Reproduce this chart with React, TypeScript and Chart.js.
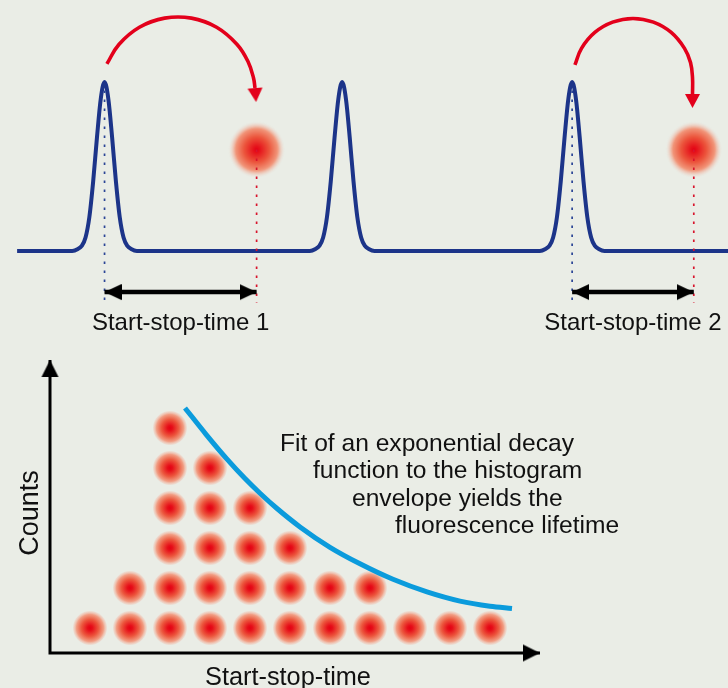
import React, { useEffect, useRef } from "react";
import { Chart, registerables } from "chart.js";

Chart.register(...registerables);

// ---------- Top panel: excitation pulses and detected photons ----------
// time in ns, signal level normalised (baseline 0, pulse peak 1)
const pulseTimes = [0, 12.5, 24.6];
const pulseShapeDt = [-1.7, -1.4, -1.2, -1.0, -0.8, -0.6, -0.4, -0.2, 0, 0.2, 0.4, 0.6, 0.8, 1.0, 1.2, 1.4, 1.7];
const pulseShapeLevel = [0, 0.012, 0.03, 0.08, 0.2, 0.41, 0.67, 0.9, 1, 0.9, 0.67, 0.41, 0.2, 0.08, 0.03, 0.012, 0];
const traceStart = -4.6;
const traceEnd = 32.8;
const photonTimes = [8.0, 31.0];
const photonLevel = 0.6;
const startPulseIndex = [0, 2];
const timeLabels = ["Start-stop-time 1", "Start-stop-time 2"];
const arrowLevel = -0.243;
const guideBottom = -0.308;
const guideTop = 0.95;

// red excitation -> emission arcs
const arc1T = [0.124, 0.755, 1.834, 3.16, 4.57, 5.895, 6.974, 7.547, 7.837, 7.916];
const arc1V = [1.107, 1.222, 1.324, 1.378, 1.378, 1.324, 1.222, 1.121, 1.024, 0.964];
const arc2T = [24.746, 25.093, 25.793, 26.729, 27.802, 28.876, 29.812, 30.512, 30.828, 30.933, 30.933];
const arc2V = [1.101, 1.199, 1.293, 1.354, 1.376, 1.354, 1.293, 1.199, 1.115, 1.024, 0.929];

// ---------- Bottom panel: histogram of start-stop times ----------
const bins = [1, 2, 3, 4, 5, 6, 7, 8, 9, 10, 11];
const counts = [1, 2, 6, 5, 4, 3, 2, 2, 1, 1, 1];
const fitBin = [3.375, 3.9, 4.425, 4.875, 5.25, 5.675, 6.25, 7.0, 7.75, 8.575, 9.425, 10.25, 11.0, 11.55];
const fitCount = [6.5, 5.8425, 5.2225, 4.7375, 4.37, 3.9875, 3.5275, 3.0175, 2.605, 2.2175, 1.9025, 1.6725, 1.545, 1.49];
const axisBase = 0.375;
const yAxisEnd = 7.7;
const xAxisEnd = 12.25;
const annotationLines = [
  "Fit of an exponential decay",
  "function to the histogram",
  "envelope yields the",
  "fluorescence lifetime",
];
const yAxisTitle = "Counts";
const xAxisTitle = "Start-stop-time";

// ---------- styling / layout ----------
const BG = "rgb(234,237,230)";
const FAMILY = '"Liberation Sans", Arial, Helvetica, sans-serif';
const TEXT_COLOR = "#111111";
const NAVY = "#1c3489";
const RED = "#e3001b";
const CYAN = "#0b9bdc";

const layout = {
  top: { xMin: -5.5, xMax: 32.8, yMin: -2.5858, yMax: 1.4852 },
  bottom: { xMin: -1.25, xMax: 16.95, yMin: -0.5, yMax: 16.7 },
  timeLabelLevel: -0.4675,
  annotationX: [5.75, 6.575, 7.55, 8.625],
  annotationY: [5.425, 4.75, 4.05, 3.375],
  yTitle: { x: -0.3, y: 3.875 },
  xTitle: { x: 5.95, y: -0.425 },
  fonts: { timeLabel: 24, annotation: 24.6, yTitle: 27, xTitle: 25.3 },
  arcHeadRotation: [85.5, 90],
};

function makeArrow(len: number, half: number, color: string, tipAtCenter: boolean) {
  const c = document.createElement("canvas");
  c.width = Math.ceil(len * 2);
  c.height = Math.ceil(half * 2) + 2;
  const ctx = c.getContext("2d")!;
  const cx = c.width / 2;
  const cy = c.height / 2;
  ctx.fillStyle = color;
  ctx.beginPath();
  if (tipAtCenter) {
    ctx.moveTo(cx, cy);
    ctx.lineTo(cx - len, cy - half);
    ctx.lineTo(cx - len, cy + half);
  } else {
    ctx.moveTo(cx + len, cy);
    ctx.lineTo(cx, cy - half);
    ctx.lineTo(cx, cy + half);
  }
  ctx.closePath();
  ctx.fill();
  return c;
}

function makeGlow(r: number, stops: [number, string][]) {
  const c = document.createElement("canvas");
  const s = Math.ceil(r * 2) + 2;
  c.width = s;
  c.height = s;
  const ctx = c.getContext("2d")!;
  const g = ctx.createRadialGradient(s / 2, s / 2, 0, s / 2, s / 2, r);
  stops.forEach(([o, col]) => g.addColorStop(o, col));
  ctx.fillStyle = g;
  ctx.beginPath();
  ctx.arc(s / 2, s / 2, r, 0, Math.PI * 2);
  ctx.fill();
  return c;
}

export default function App() {
  const ref = useRef<HTMLCanvasElement>(null);

  useEffect(() => {
    document.body.style.margin = "0";
    document.body.style.background = BG;
    const canvas = ref.current!;

    const dotImg = makeGlow(17, [
      [0, "rgb(228,0,20)"],
      [0.15, "rgb(230,15,25)"],
      [0.5, "rgb(236,88,62)"],
      [0.8, "rgb(241,158,132)"],
      [1, "rgba(240,200,185,0.35)"],
    ]);
    const photonImg = makeGlow(28, [
      [0, "rgb(228,0,20)"],
      [0.12, "rgb(230,20,28)"],
      [0.45, "rgb(236,85,60)"],
      [0.75, "rgb(241,150,122)"],
      [1, "rgba(236,215,205,0)"],
    ]);
    const blackTip = makeArrow(17, 8, "#000", true);
    const axisTip = makeArrow(17, 8.5, "#000", true);
    const redHead = makeArrow(14, 7.5, RED, false);

    // pulse trace
    const trace: { x: number; y: number }[] = [{ x: traceStart, y: 0 }];
    pulseTimes.forEach((t0) =>
      pulseShapeDt.forEach((dt, i) => trace.push({ x: t0 + dt, y: pulseShapeLevel[i] }))
    );
    trace.push({ x: traceEnd, y: 0 });

    // histogram dots
    const dots: { x: number; y: number }[] = [];
    bins.forEach((b, i) => {
      for (let k = 1; k <= counts[i]; k++) dots.push({ x: b, y: k });
    });

    const top = { xAxisID: "xt", yAxisID: "yt" };
    const bot = { xAxisID: "xb", yAxisID: "yb" };
    const plainLine = { pointRadius: 0, fill: false, tension: 0 };

    const datasets: any[] = [];

    // photon glows
    datasets.push({
      ...top,
      data: photonTimes.map((t) => ({ x: t, y: photonLevel })),
      showLine: false,
      pointStyle: photonImg,
      pointRadius: 10,
    });
    // pulse trace
    datasets.push({
      ...top,
      ...plainLine,
      data: trace,
      borderColor: NAVY,
      borderWidth: 4,
      cubicInterpolationMode: "monotone",
      borderJoinStyle: "round",
    });
    // guides + double arrows
    startPulseIndex.forEach((pi, i) => {
      const t0 = pulseTimes[pi];
      const t1 = photonTimes[i];
      datasets.push({
        ...top,
        ...plainLine,
        data: [{ x: t0, y: guideTop }, { x: t0, y: guideBottom }],
        borderColor: "#2b4596",
        borderWidth: 1.7,
        borderDash: [2.5, 6.5],
      });
      datasets.push({
        ...top,
        ...plainLine,
        data: [{ x: t1, y: photonLevel }, { x: t1, y: guideBottom }],
        borderColor: "#d8142c",
        borderWidth: 1.7,
        borderDash: [2.5, 6.5],
      });
      datasets.push({
        ...top,
        data: [{ x: t0, y: arrowLevel }, { x: t1, y: arrowLevel }],
        borderColor: "#000",
        borderWidth: 4.5,
        fill: false,
        pointStyle: blackTip,
        pointRadius: 5,
        pointRotation: [180, 0],
      });
    });
    // red arcs
    [
      [arc1T, arc1V, layout.arcHeadRotation[0]],
      [arc2T, arc2V, layout.arcHeadRotation[1]],
    ].forEach(([ts, vs, rot]: any) => {
      datasets.push({
        ...top,
        data: ts.map((t: number, i: number) => ({ x: t, y: vs[i] })),
        borderColor: RED,
        borderWidth: 3.6,
        fill: false,
        tension: 0.4,
        borderCapStyle: "butt",
        pointStyle: redHead,
        pointRadius: ts.map((_: number, i: number) => (i === ts.length - 1 ? 5 : 0)),
        pointRotation: rot,
      });
    });

    // histogram dots
    datasets.push({
      ...bot,
      data: dots,
      showLine: false,
      pointStyle: dotImg,
      pointRadius: 10,
    });
    // fit curve
    datasets.push({
      ...bot,
      pointRadius: 0,
      fill: false,
      data: fitBin.map((b, i) => ({ x: b, y: fitCount[i] })),
      borderColor: CYAN,
      borderWidth: 5,
      cubicInterpolationMode: "monotone",
    });
    // axes
    datasets.push({
      ...bot,
      data: [
        { x: 0, y: yAxisEnd },
        { x: 0, y: axisBase },
        { x: xAxisEnd, y: axisBase },
      ],
      borderColor: "#000",
      borderWidth: 3,
      fill: false,
      borderJoinStyle: "miter",
      pointStyle: axisTip,
      pointRadius: [5, 0, 5],
      pointRotation: [-90, 0, 0],
    });

    const n = datasets.length;
    datasets.forEach((d, i) => (d.order = n - i));

    const bgPlugin = {
      id: "bg",
      beforeDraw(chart: any) {
        const { ctx, width, height } = chart;
        ctx.save();
        ctx.fillStyle = BG;
        ctx.fillRect(0, 0, width, height);
        ctx.restore();
      },
    };

    const F = layout.fonts;
    const textPlugin = {
      id: "diagramText",
      afterDatasetsDraw(chart: any) {
        const { ctx, scales } = chart;
        ctx.save();
        ctx.fillStyle = TEXT_COLOR;
        ctx.textBaseline = "alphabetic";
        ctx.textAlign = "center";
        ctx.font = `${F.timeLabel}px ${FAMILY}`;
        startPulseIndex.forEach((pi, i) => {
          const mid = (pulseTimes[pi] + photonTimes[i]) / 2;
          ctx.fillText(
            timeLabels[i],
            scales.xt.getPixelForValue(mid),
            scales.yt.getPixelForValue(layout.timeLabelLevel)
          );
        });
        ctx.font = `${F.xTitle}px ${FAMILY}`;
        ctx.fillText(
          xAxisTitle,
          scales.xb.getPixelForValue(layout.xTitle.x),
          scales.yb.getPixelForValue(layout.xTitle.y)
        );
        ctx.textAlign = "left";
        ctx.font = `${F.annotation}px ${FAMILY}`;
        annotationLines.forEach((line, i) => {
          ctx.fillText(
            line,
            scales.xb.getPixelForValue(layout.annotationX[i]),
            scales.yb.getPixelForValue(layout.annotationY[i])
          );
        });
        ctx.translate(
          scales.xb.getPixelForValue(layout.yTitle.x),
          scales.yb.getPixelForValue(layout.yTitle.y)
        );
        ctx.rotate(-Math.PI / 2);
        ctx.textAlign = "center";
        ctx.font = `${F.yTitle}px ${FAMILY}`;
        ctx.fillText(yAxisTitle, 0, 0);
        ctx.restore();
      },
    };

    const L = layout;
    const chart = new Chart(canvas, {
      type: "line",
      data: { datasets },
      options: {
        responsive: false,
        animation: false,
        events: [],
        layout: { padding: 0, autoPadding: false },
        plugins: { legend: { display: false }, tooltip: { enabled: false } },
        scales: {
          xt: { type: "linear", axis: "x", display: false, min: L.top.xMin, max: L.top.xMax },
          yt: { type: "linear", axis: "y", display: false, min: L.top.yMin, max: L.top.yMax },
          xb: { type: "linear", axis: "x", display: false, min: L.bottom.xMin, max: L.bottom.xMax },
          yb: { type: "linear", axis: "y", display: false, min: L.bottom.yMin, max: L.bottom.yMax },
        },
      } as any,
      plugins: [bgPlugin, textPlugin],
    });

    return () => chart.destroy();
  }, []);

  return <canvas ref={ref} width={728} height={688} style={{ display: "block" }} />;
}
